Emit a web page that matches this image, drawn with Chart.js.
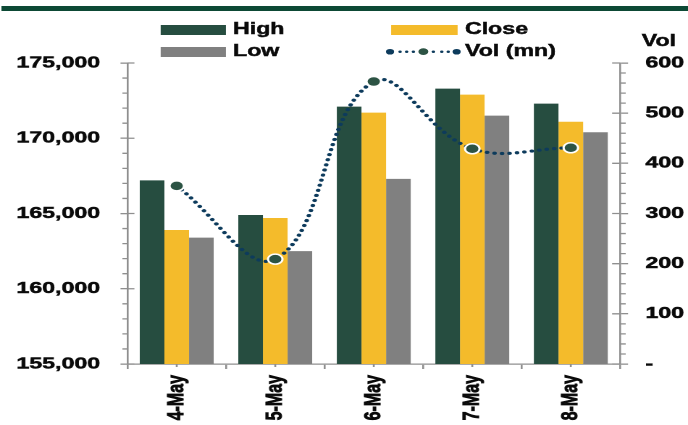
<!DOCTYPE html>
<html lang="en">
<head>
    <meta charset="UTF-8">
    <title>High / Close / Low and Volume</title>
    <script src="https://cdn.jsdelivr.net/npm/chart.js@4.4.1/dist/chart.umd.min.js"></script>
    <style>
        html, body { margin: 0; padding: 0; background: #fff; overflow: hidden; }
        /* the whole picture is drawn narrow and stretched sideways, like the source image */
        #wrap { position: absolute; left: 0; top: 0; width: 475px; height: 425px; transform: scaleX(1.4484); transform-origin: 0 0; }
        .topbar { position: absolute; left: 1.4px; right: 0; top: 6px; height: 5px; background: #0d4935; }
        .sw { position: absolute; width: 45.5px; height: 9.5px; }
        .lbl { position: absolute; font: bold 16px "Liberation Sans", Arial, sans-serif; line-height: 16px; color: #0a0a0a; white-space: nowrap; -webkit-text-stroke: 0.45px #0a0a0a; }
        #volIcon { position: absolute; left: 265px; top: 45px; }
        .chart-box { position: absolute; left: 0; top: 0; width: 475px; height: 425px; }
    </style>
</head>
<body>
<div id="wrap">
    <div class="topbar"></div>

    <div class="sw" style="left:110.5px; top:25px; background:#264d40"></div>
    <div class="lbl" style="left:160.9px; top:20.8px">High</div>
    <div class="sw" style="left:270px; top:25px; background:#f4bb2b"></div>
    <div class="lbl" style="left:321px; top:20.8px">Close</div>
    <div class="sw" style="left:110.5px; top:47px; background:#808080"></div>
    <div class="lbl" style="left:160.9px; top:42.5px">Low</div>
    <svg id="volIcon" width="56" height="14" viewBox="0 0 56 14">
        <g fill="#0d3b5c">
            <circle cx="4.3" cy="6.7" r="2.8"/><circle cx="11.2" cy="6.7" r="1.2"/>
            <circle cx="15.8" cy="6.7" r="1.2"/><circle cx="20.4" cy="6.7" r="1.2"/>
            <circle cx="34.2" cy="6.7" r="1.2"/><circle cx="40" cy="6.7" r="1.2"/>
            <circle cx="44.5" cy="6.7" r="1.2"/><circle cx="50.3" cy="6.7" r="2.8"/>
        </g>
        <circle cx="27.3" cy="6.7" r="3.4" fill="#2c5344"/>
    </svg>
    <div class="lbl" style="left:321px; top:42.5px">Vol (mn)</div>
    <div class="lbl" style="left:443px; top:33.2px">Vol</div>

    <div class="chart-box"><canvas id="hlc-chart"></canvas></div>
</div>

<script>
    const days  = ['4-May', '5-May', '6-May', '7-May', '8-May'];
    const high  = [167200, 164900, 172100, 173300, 172300];
    const close = [163900, 164700, 171700, 172900, 171100];
    const low   = [163400, 162500, 167300, 171500, 170400];
    const vol   = [355, 209, 563, 429, 431];

    const priceTicks = [155000, 175000, 5000, 1000];   // min, max, major step, minor step
    const volTicks   = [0, 600, 100, 20];

    const AXIS = '#8f8f8f';
    const INK = '#0a0a0a';
    const labelFont = { family: 'Liberation Sans', weight: 'bold', size: 16 };

    // minor ticks and the inner half of the major ticks, placed through the scales
    const extraTicks = {
        id: 'extraTicks',
        afterDraw(chart) {
            const { ctx, scales } = chart;
            const { x, y, y1 } = scales;
            ctx.save();
            ctx.strokeStyle = AXIS;
            ctx.lineWidth = 1.3;
            ctx.beginPath();
            for (let v = priceTicks[0]; v <= priceTicks[1]; v += priceTicks[3]) {
                const p = y.getPixelForValue(v);
                if (v % priceTicks[2] === 0) { ctx.moveTo(y.right, p); ctx.lineTo(y.right + 4.8, p); }
                else { ctx.moveTo(y.right - 3.5, p); ctx.lineTo(y.right, p); }
            }
            for (let v = volTicks[0]; v <= volTicks[1]; v += volTicks[3]) {
                const p = y1.getPixelForValue(v);
                if (v % volTicks[2] === 0) { ctx.moveTo(y1.left - 5.5, p); ctx.lineTo(y1.left, p); }
                else { ctx.moveTo(y1.left, p); ctx.lineTo(y1.left + 3.9, p); }
            }
            days.forEach((d, i) => {
                const px = x.getPixelForValue(i);
                ctx.moveTo(px, x.top);
                ctx.lineTo(px, x.top + 3);
            });
            ctx.stroke();
            ctx.restore();
        }
    };

    new Chart(document.getElementById('hlc-chart'), {
        data: {
            labels: days,
            datasets: [
                {
                    type: 'line', label: 'Vol (mn)', data: vol, yAxisID: 'y1', order: 0,
                    borderColor: '#0d3b5c', borderWidth: 3.2, borderDash: [0.001, 5.2], borderCapStyle: 'round',
                    tension: 0.4, fill: false,
                    pointRadius: 5, pointBackgroundColor: '#2c5344', pointBorderColor: '#ffffff', pointBorderWidth: 1.5
                },
                { type: 'bar', label: 'High',  data: high,  yAxisID: 'y', order: 1, backgroundColor: '#264d40' },
                { type: 'bar', label: 'Close', data: close, yAxisID: 'y', order: 1, backgroundColor: '#f4bb2b' },
                { type: 'bar', label: 'Low',   data: low,   yAxisID: 'y', order: 1, backgroundColor: '#808080' }
            ]
        },
        options: {
            responsive: true,
            maintainAspectRatio: false,
            devicePixelRatio: 2,
            animation: false,
            datasets: { bar: { categoryPercentage: 0.75, barPercentage: 1.0, borderWidth: 0 } },
            layout: { padding: { top: 63, left: 0, right: 0, bottom: 0 } },
            plugins: { legend: { display: false }, tooltip: { enabled: false } },
            scales: {
                x: {
                    offset: true,
                    grid: { offset: true, drawOnChartArea: false, tickLength: 5, color: AXIS, lineWidth: 1.3 },
                    border: { color: AXIS, width: 1.3 },
                    ticks: {
                        minRotation: 90, maxRotation: 90, padding: 6, color: INK, font: labelFont,
                        textStrokeColor: INK, textStrokeWidth: 0.6
                    },
                    afterFit(s) { s.height = 61; }
                },
                y: {
                    position: 'left',
                    min: priceTicks[0], max: priceTicks[1],
                    grid: { drawOnChartArea: false, tickLength: 4.8, color: AXIS, lineWidth: 1.3 },
                    border: { color: AXIS, width: 1.3 },
                    ticks: {
                        stepSize: priceTicks[2], padding: 14, color: INK, font: labelFont,
                        textStrokeColor: INK, textStrokeWidth: 0.5,
                        callback: v => v.toLocaleString('en-US')
                    },
                    afterFit(s) { s.width = 88; }
                },
                y1: {
                    position: 'right',
                    min: volTicks[0], max: volTicks[1],
                    grid: { drawOnChartArea: false, tickLength: 5.5, color: AXIS, lineWidth: 1.3 },
                    border: { color: AXIS, width: 1.3 },
                    ticks: {
                        stepSize: volTicks[2], padding: 12, color: INK, font: labelFont,
                        textStrokeColor: INK, textStrokeWidth: 0.5,
                        callback: v => v === 0 ? '-' : v
                    },
                    afterFit(s) { s.width = 46.9; }
                }
            }
        },
        plugins: [extraTicks]
    });
</script>
</body>
</html>
